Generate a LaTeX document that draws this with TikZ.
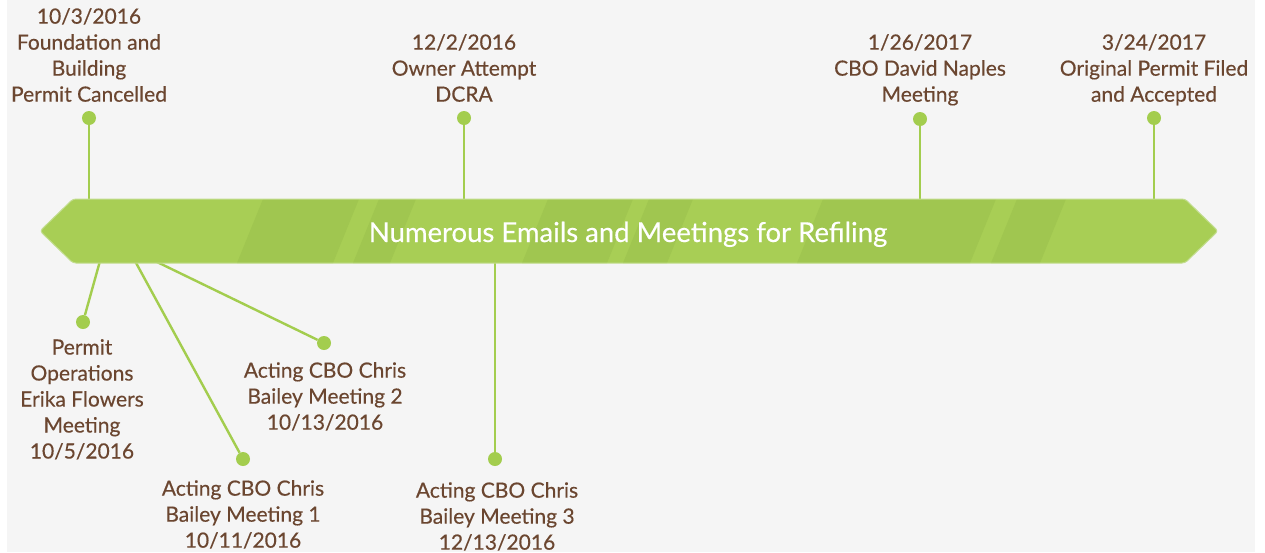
\documentclass[tikz,border=0pt]{standalone}
\usepackage{fontspec}
\setmainfont{Lato}[FakeBold=0.35]
\definecolor{bggray}{HTML}{F5F5F5}
\definecolor{barlight}{HTML}{A8CE55}
\definecolor{bardark}{HTML}{A0C650}
\definecolor{baredge}{HTML}{C2DD8E}
\definecolor{pin}{HTML}{A3CD4E}
\definecolor{brown}{HTML}{6B4630}

\tikzstyle{dot}=[circle,fill=pin,minimum size=14pt,inner sep=0pt]
\tikzstyle{event}=[text=brown,align=center,inner sep=0pt,anchor=north,font=\fontsize{21}{26}\selectfont]
\tikzstyle{stem}=[draw=pin,line width=2.4pt]

\begin{document}
\begin{tikzpicture}[x=1pt,y=-1pt]
		\useasboundingbox (0,0) rectangle (1265,552);
		\fill[bggray] (7,0) rectangle (1255,552);
		% top events
		\node[dot] (d1) at (89,118) {};
		\node[dot] (d2) at (464,118) {};
		\node[dot] (d3) at (920,119) {};
		\node[dot] (d4) at (1154,118) {};
		\coordinate (t1) at (89,201);
		\coordinate (t2) at (464,201);
		\coordinate (t3) at (920,201);
		\coordinate (t4) at (1154,201);
		\node[event] (e1) at (89,8) {10/3/2016\\Foundation and\\Building\\Permit Cancelled};
		\node[event] (e2) at (464,34) {12/2/2016\\Owner Attempt\\DCRA};
		\node[event] (e3) at (920,34) {1/26/2017\\CBO David Naples\\Meeting};
		\node[event] (e4) at (1154,34) {3/24/2017\\Original Permit Filed\\and Accepted};
		% bottom events
		\node[dot] (d5) at (83,322) {};
		\node[dot] (d6) at (243,459) {};
		\node[dot] (d7) at (324,343) {};
		\node[dot] (d8) at (495,459) {};
		\coordinate (b5) at (100,261);
		\coordinate (b6) at (135,261);
		\coordinate (b7) at (155,261);
		\coordinate (b8) at (495,261);
		\node[event] (e5) at (82,339) {Permit\\Operations\\Erika Flowers\\Meeting\\10/5/2016};
		\node[event] (e6) at (243,480) {Acting CBO Chris\\Bailey Meeting 1\\10/11/2016};
		\node[event] (e7) at (325,362) {Acting CBO Chris\\Bailey Meeting 2\\10/13/2016};
		\node[event] (e8) at (497,482) {Acting CBO Chris\\Bailey Meeting 3\\12/13/2016};
		\foreach \i in {1,...,4} \draw[stem] (d\i) -- (t\i);
		\foreach \i in {5,...,8} \draw[stem] (d\i) -- (b\i);
		% the bar with its slanted bands
		\begin{scope}
			\clip[rounded corners=3pt] (40,231) -- (73,199) -- (1185,199) -- (1218,231) -- (1185,263) -- (73,263) -- cycle;
			\fill[barlight] (30,190) rectangle (1230,270);
			\foreach \a/\b in {237/333,353/390,522/607,623/667,797/970,991/1040}
				\fill[bardark] (\a,263) -- (\a+26,199) -- (\b+26,199) -- (\b,263) -- cycle;
		\end{scope}
		\draw[baredge,line width=1pt,rounded corners=3pt] (40,231) -- (73,199) -- (1185,199) -- (1218,231) -- (1185,263) -- (73,263) -- cycle;
		\node[text=white,anchor=base,font=\fontsize{27.5}{32}\selectfont] (bar) at (628,242) {Numerous Emails and Meetings for Refiling};
\end{tikzpicture}
\end{document}
